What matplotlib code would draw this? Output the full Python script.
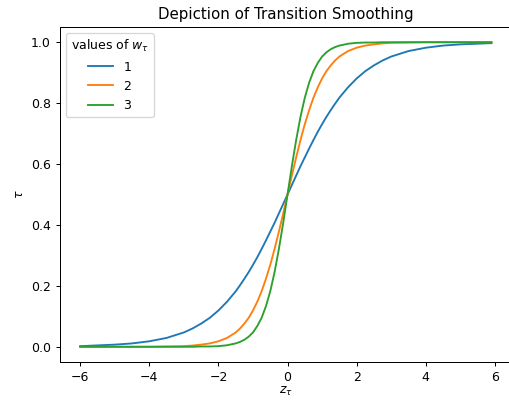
import numpy as np
from matplotlib import pyplot as plt

# values
z_tau = [-6.0, -5.0, -4.5, -4.0, -3.5, -3.0, -2.75, -2.5, -2.25, -2.0, -1.75,
         -1.5, -1.375, -1.25, -1.125, -1.0, -0.875, -0.75, -0.625, -0.5, -0.375, -0.25, -0.125,
         0.0,
         0.125, 0.25, 0.375, 0.5, 0.625, 0.75, 0.875, 1.0, 1.125, 1.25, 1.375, 1.5,
         1.75, 2.0, 2.25, 2.5, 2.75, 3.0, 3.5, 4.0, 4.5, 5.0, 5.9]
tau_w1 = [0.002, 0.007, 0.011, 0.018, 0.029, 0.047, 0.060, 0.076, 0.095, 0.119, 0.148,
          0.182, 0.202, 0.223, 0.245, 0.269, 0.294, 0.321, 0.349, 0.378, 0.407, 0.438, 0.469,
          0.500,
          0.531, 0.562, 0.593, 0.622, 0.651, 0.679, 0.706, 0.731, 0.755, 0.777, 0.798, 0.818,
          0.852, 0.881, 0.905, 0.924, 0.940, 0.953, 0.971, 0.982, 0.989, 0.993, 0.997]
tau_w2 = [0.000, 0.000, 0.000, 0.000, 0.001, 0.002, 0.004, 0.007, 0.011, 0.018, 0.029,
          0.047, 0.060, 0.076, 0.095, 0.119, 0.148, 0.182, 0.223, 0.269, 0.321, 0.378, 0.438,
          0.500,
          0.562, 0.622, 0.679, 0.731, 0.777, 0.818, 0.852, 0.881, 0.905, 0.924, 0.940, 0.953,
          0.971, 0.982, 0.989, 0.993, 0.996, 0.998, 0.999, 1.000, 1.000, 1.000, 1.000]
tau_w3 = [0.000, 0.000, 0.000, 0.000, 0.000, 0.000, 0.000, 0.001, 0.001, 0.002, 0.005,
          0.011, 0.016, 0.023, 0.033, 0.047, 0.068, 0.095, 0.133, 0.182, 0.245, 0.321, 0.407,
          0.500,
          0.593, 0.679, 0.755, 0.818, 0.867, 0.905, 0.932, 0.953, 0.967, 0.977, 0.984, 0.989,
          0.995, 0.998, 0.999, 0.999, 1.000, 1.000, 1.000, 1.000, 1.000, 1.000, 1.000]
w_values = ['1', '2', '3']

fig = plt.figure(figsize=(509 / 90, 400 / 90), dpi=90)
ax = fig.add_axes([0.117, 0.095, 0.889, 0.8375])
for tau, w in zip([tau_w1, tau_w2, tau_w3], w_values):
    ax.plot(z_tau, tau, label=w)

ax.set_xlabel(r'$z_\tau$', labelpad=1)
ax.set_ylabel(r'$\tau$')
ax.set_title('Depiction of Transition Smoothing')
ax.legend(title=r'values of $w_\tau$', loc='upper left')
fig.savefig('out.png', dpi=90)
